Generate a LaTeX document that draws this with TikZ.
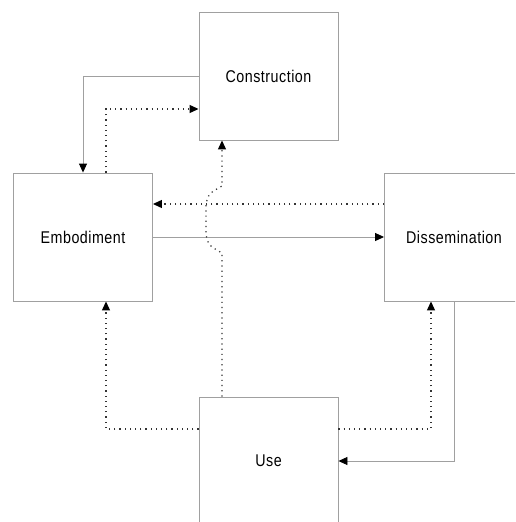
\documentclass[tikz,border=0pt]{standalone}
\usepackage{fontspec}
\setmainfont{Liberation Sans}[FakeStretch=0.84,LetterSpace=3]
\usetikzlibrary{arrows.meta}
\definecolor{boxgray}{HTML}{A0A0A0}
\tikzset{
  blk/.style={draw=boxgray, line width=0.9pt, minimum width=139pt, minimum height=128pt, inner sep=0pt, font=\fontsize{17}{19}\selectfont, text=black},
  solidc/.style={draw=boxgray, line width=0.9pt, -{Triangle[length=9pt,width=8pt,color=black]}},
  dotc/.style={draw=black!80, line width=1.2pt, dash pattern=on 1.2pt off 4pt, -{Triangle[length=9pt,width=8pt,color=black]}},
}
\begin{document}
\begin{tikzpicture}[x=1pt,y=-1pt]
\useasboundingbox (0,0) rectangle (515,522);
\clip (0,0) rectangle (515,522);
\node[blk] (con) at (268.5,76) {Construction};
\node[blk] (emb) at (83,237) {Embodiment};
\node[blk] (dis) at (454,237) {Dissemination};
\node[blk] (use) at (268.5,461) {Use};
% Construction -> Embodiment
\draw[solidc] (con.west) -| (emb.north);
% Embodiment -> Construction
\draw[dotc] ([xshift=23pt]emb.north) |- ([yshift=-33pt]con.west);
% Dissemination -> Embodiment
\draw[dotc] ([yshift=33pt]dis.west) -- ([yshift=33pt]emb.east);
% Embodiment -> Dissemination
\draw[solidc] (emb.east) -- (dis.west);
% Use -> Construction (with jump)
\coordinate (j1) at (222,253);
\coordinate (j2) at (206,234);
\coordinate (j3) at (206,205);
\coordinate (j4) at (222,186);
\draw[dotc] ([xshift=-46.5pt]use.north) -- (j1) .. controls (208,245) .. (j2) -- (j3) .. controls (208,194) .. (j4) -- ([xshift=-46.5pt]con.south);
% Use -> Embodiment
\draw[dotc] ([yshift=32pt]use.west) -| ([xshift=23pt]emb.south);
% Use -> Dissemination
\draw[dotc] ([yshift=32pt]use.east) -| ([xshift=-23pt]dis.south);
% Dissemination -> Use
\draw[solidc] (dis.south) |- (use.east);
\end{tikzpicture}
\end{document}
